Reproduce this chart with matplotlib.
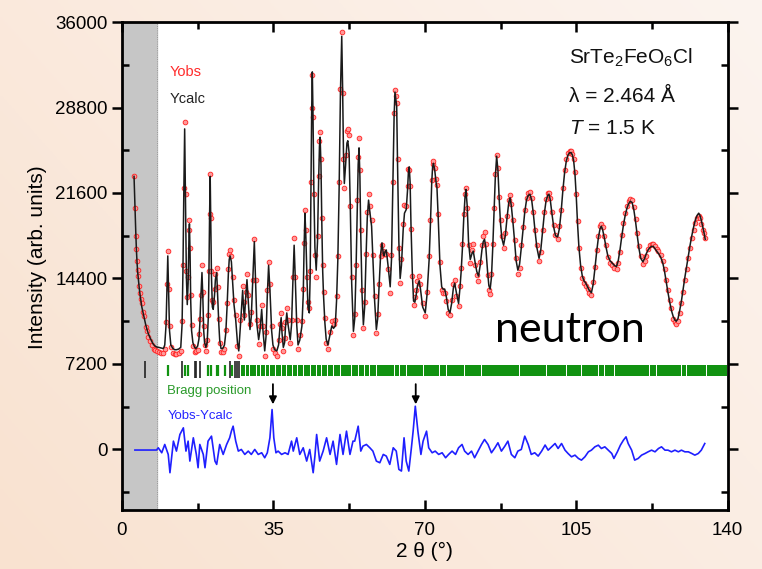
import numpy as np
import matplotlib.pyplot as plt

plt.rcParams['font.family'] = ['Liberation Sans', 'DejaVu Sans']
plt.rcParams['mathtext.fontset'] = 'custom'
plt.rcParams['mathtext.rm'] = 'Liberation Sans'
plt.rcParams['mathtext.it'] = 'Liberation Sans:italic'

two_theta = [2.8, 3.0, 3.2, 3.35, 3.5, 3.65, 3.8, 4.0, 4.2, 4.4,
             4.6, 4.9, 5.2, 5.5, 5.8, 6.1, 6.5, 6.9, 7.3, 7.7,
             8.1, 8.5, 9.0, 9.6, 9.9, 10.2, 10.4, 10.6, 10.8, 11.0,
             11.3, 11.8, 12.2, 12.6, 13.1, 13.6, 13.9, 14.1, 14.3, 14.5,
             14.7, 14.9, 15.1, 15.3, 15.5, 15.6, 15.75, 15.9, 16.1, 16.4,
             16.8, 17.1, 17.5, 17.8, 18.0, 18.2, 18.5, 18.7, 18.9, 19.1,
             19.4, 19.7, 19.95, 20.1, 20.25, 20.4, 20.55, 20.7, 20.9, 21.1,
             21.4, 21.6, 21.9, 22.1, 22.4, 22.6, 22.9, 23.3, 23.7, 24.0,
             24.3, 24.6, 24.8, 25.0, 25.3, 25.6, 25.9, 26.3, 26.7, 27.0,
             27.4, 27.9, 28.1, 28.3, 28.6, 28.9, 29.2, 29.6, 29.9, 30.2,
             30.6, 30.9, 31.2, 31.6, 31.9, 32.3, 32.6, 33.0, 33.3, 33.6,
             33.9, 34.2, 34.6, 34.9, 35.3, 35.8, 36.2, 36.5, 36.8, 37.0,
             37.3, 37.6, 37.8, 38.1, 38.4, 38.9, 39.2, 39.5, 39.8, 40.1,
             40.4, 40.7, 41.1, 41.6, 41.9, 42.1, 42.3, 42.5, 42.8, 43.0,
             43.3, 43.5, 43.7, 43.85, 44.0, 44.15, 44.35, 44.6, 44.9, 45.2,
             45.45, 45.65, 45.8, 46.0, 46.2, 46.4, 46.6, 46.9, 47.2, 47.6,
             48.0, 48.5, 48.9, 49.3, 49.6, 49.9, 50.2, 50.5, 50.8, 51.0,
             51.2, 51.4, 51.7, 52.0, 52.2, 52.5, 52.8, 53.1, 53.5, 53.8,
             54.1, 54.4, 54.6, 54.8, 55.0, 55.2, 55.5, 55.8, 56.1, 56.4,
             56.7, 57.0, 57.3, 57.7, 58.0, 58.4, 58.8, 59.1, 59.4, 59.8,
             60.1, 60.4, 60.6, 60.85, 61.1, 61.5, 62.0, 62.3, 62.6, 62.9,
             63.1, 63.3, 63.5, 63.7, 64.0, 64.3, 64.6, 65.0, 65.3, 65.7,
             66.0, 66.2, 66.4, 66.6, 66.8, 67.1, 67.4, 67.7, 68.0, 68.3,
             68.7, 69.0, 69.5, 70.1, 70.5, 71.0, 71.3, 71.6, 71.8, 72.0,
             72.3, 72.6, 72.8, 73.1, 73.5, 73.9, 74.2, 74.6, 75.0, 75.4,
             75.8, 76.2, 76.6, 76.9, 77.3, 77.8, 78.1, 78.4, 78.7, 79.0,
             79.3, 79.5, 79.8, 80.1, 80.5, 80.9, 81.2, 81.6, 82.0, 82.4,
             82.8, 83.2, 83.5, 83.8, 84.1, 84.5, 84.8, 85.1, 85.4, 85.7,
             86.0, 86.3, 86.6, 86.9, 87.2, 87.5, 87.8, 88.2, 88.6, 89.0,
             89.4, 89.7, 90.0, 90.4, 90.8, 91.1, 91.5, 91.9, 92.3, 92.7,
             93.1, 93.5, 93.9, 94.3, 94.7, 95.1, 95.5, 95.9, 96.4, 96.8,
             97.2, 97.6, 98.0, 98.4, 98.7, 99.0, 99.4, 99.8, 100.2, 100.7,
             101.1, 101.5, 101.9, 102.3, 102.7, 103.1, 103.5, 103.8, 104.1, 104.4,
             104.7, 105.0, 105.3, 105.6, 106.0, 106.4, 106.8, 107.2, 107.6, 108.0,
             108.5, 108.9, 109.3, 109.7, 110.1, 110.5, 110.8, 111.1, 111.5, 111.9,
             112.3, 112.8, 113.3, 113.8, 114.3, 114.7, 115.1, 115.5, 115.9, 116.3,
             116.7, 117.1, 117.5, 117.9, 118.3, 118.7, 119.1, 119.5, 119.9, 120.4,
             120.8, 121.2, 121.6, 122.0, 122.4, 122.8, 123.2, 123.6, 124.0, 124.5,
             125.0, 125.4, 125.8, 126.2, 126.6, 127.0, 127.4, 127.8, 128.1, 128.5,
             128.9, 129.3, 129.7, 130.1, 130.5, 130.9, 131.3, 131.7, 132.1, 132.5,
             132.9, 133.3, 133.6, 133.9, 134.2, 134.5, 134.8]
y_calc = [23000, 20500, 18300, 16800, 15700, 14900, 14300, 13600, 13000, 12500,
          12000, 11500, 11000, 10500, 10100, 9750, 9400, 9100, 8830, 8700,
          8620, 8600, 8550, 8500, 8800, 10500, 13500, 16300, 13000, 10000,
          8800, 8500, 8400, 8400, 8450, 8600, 10500, 15000, 21500, 27000,
          21000, 14500, 12200, 14000, 18000, 19000, 16500, 12500, 10000, 9000,
          8600, 8500, 8700, 9300, 10500, 12500, 14900, 12800, 10000, 9000,
          8600, 9000, 11000, 14500, 19500, 23000, 19000, 14500, 12000, 11800,
          13000, 14300, 14900, 13200, 10500, 9200, 8500, 8500, 8800, 9800,
          12000, 14800, 16000, 16300, 15800, 14000, 12200, 10900, 9000, 8300,
          10500, 13400, 12000, 10900, 12800, 14300, 12500, 10100, 11200, 14000,
          17500, 14000, 10500, 9250, 10000, 11800, 10000, 8300, 9500, 13000,
          15500, 13500, 10000, 8800, 8400, 8300, 8800, 10200, 11100, 9800,
          8600, 9000, 10300, 11500, 10500, 9250, 10500, 14000, 17200, 14000,
          10500, 8800, 9200, 10400, 13000, 17000, 19900, 18000, 14000, 12000,
          11500, 14500, 22000, 28500, 31800, 28500, 22000, 17000, 15100, 17500,
          22500, 25500, 26300, 24000, 19000, 15000, 12900, 10700, 9300, 8800,
          9500, 10400, 10200, 10400, 12500, 16000, 22000, 30000, 34800, 30500,
          25000, 22400, 24000, 25800, 26000, 25000, 20000, 14000, 9950, 11000,
          15000, 20500, 24000, 25400, 23000, 18000, 13000, 10500, 12000, 16000,
          19500, 21000, 20000, 18800, 16000, 12500, 10100, 11000, 13500, 16500,
          17400, 16500, 16300, 16700, 16800, 15500, 13700, 16000, 22000, 28000,
          30100, 29500, 28900, 24000, 17500, 14400, 15500, 18500, 19900, 20200,
          21800, 23300, 23800, 22500, 19000, 15000, 12500, 12400, 13000, 13800,
          14200, 13500, 12000, 11500, 13000, 16000, 19000, 22500, 23800, 24100,
          23500, 22500, 22100, 19500, 15500, 13700, 13500, 13500, 12800, 11800,
          11500, 12300, 13600, 14000, 13200, 12300, 13500, 15000, 17000, 19500,
          21300, 21900, 20500, 17500, 16000, 16500, 16700, 15800, 15000, 14600,
          15500, 16800, 17500, 17700, 17000, 15000, 13800, 13500, 14500, 17000,
          20000, 23000, 24700, 23500, 21000, 19000, 17800, 17200, 18000, 19500,
          20800, 21200, 20500, 19000, 17300, 15900, 15100, 15600, 17000, 18500,
          20000, 21000, 21400, 21500, 21000, 19800, 18300, 17000, 16100, 16800,
          18300, 19800, 20900, 21400, 21500, 21000, 19800, 18700, 18000, 17900,
          18600, 20000, 21800, 23300, 24300, 24800, 25000, 25000, 24800, 24300,
          23200, 21300, 19000, 17100, 15500, 14600, 14200, 14000, 13700, 13400,
          13200, 13900, 15200, 16600, 17800, 18600, 18800, 18500, 17800, 17000,
          16300, 15900, 15700, 15500, 15400, 15900, 16800, 17900, 18900, 19700,
          20300, 20700, 20900, 20800, 20200, 19200, 18000, 16900, 16100, 15800,
          16100, 16500, 16800, 17000, 17100, 17100, 16900, 16700, 16500, 16200,
          15700, 15000, 14100, 13200, 12400, 11700, 11200, 10900, 10800, 11000,
          11700, 12500, 13500, 14500, 15400, 16300, 17200, 18000, 18700, 19300,
          19700, 19900, 19700, 19300, 18800, 18300, 17700]
y_obs = [23000, 20300, 18000, 16900, 15900, 15100, 14600, 13800, 13200, 12700,
         12300, 11600, 11200, 10300, 10000, 9500, 9100, 8800, 8500, 8400,
         8300, 8200, 8150, 8100, 8500, 10700, 13900, 16700, 13500, 10400,
         8600, 8100, 8000, 8050, 8100, 8300, 10800, 15500, 22000, 27600,
         21500, 15000, 12800, 14500, 18500, 19300, 17000, 13000, 10500, 8700,
         8200, 8300, 8400, 9700, 11000, 13000, 15500, 13300, 10400, 8800,
         8300, 9200, 11300, 15000, 19800, 23200, 19500, 15000, 12600, 12400,
         13500, 14800, 15300, 13700, 11000, 9000, 8200, 8200, 8500, 10100,
         12300, 15200, 16500, 16800, 16300, 14500, 12600, 11300, 8700, 7900,
         10900, 13800, 12400, 11300, 13300, 14800, 13000, 10600, 11600, 14300,
         17700, 14300, 10900, 8900, 10400, 12200, 10400, 7900, 9900, 13400,
         15800, 13900, 10400, 8500, 8100, 7900, 9200, 10600, 11500, 10200,
         8300, 9400, 10700, 11900, 10900, 9000, 10900, 14500, 17800, 14500,
         10900, 8500, 9600, 10800, 13500, 17400, 20200, 18500, 14500, 12400,
         11900, 15000, 22500, 28800, 31500, 28000, 21500, 16400, 14500, 18000,
         23000, 26000, 26700, 24500, 19500, 15500, 13300, 11100, 9000, 8500,
         9900, 10800, 10600, 10900, 12900, 16300, 22500, 30400, 35200, 30000,
         24500, 22000, 24800, 26800, 27000, 26500, 20500, 14500, 9600, 11400,
         15500, 21000, 24600, 26200, 23500, 18500, 13400, 10200, 12400, 16500,
         20000, 21500, 20500, 19300, 16400, 12900, 9800, 11400, 13900, 16300,
         17200, 16700, 16500, 16500, 16500, 15200, 13200, 16400, 22500, 28300,
         30300, 29800, 29200, 24500, 17000, 14000, 16000, 19000, 20600, 20500,
         22200, 23600, 23500, 22200, 18600, 14600, 12200, 12800, 13400, 14200,
         14600, 13900, 12300, 11200, 13300, 16300, 19300, 22700, 24000, 24300,
         23700, 22800, 22300, 19800, 15800, 13400, 13200, 13200, 12500, 11500,
         11300, 12600, 13900, 14300, 12900, 12100, 13800, 15300, 17300, 19800,
         21500, 22000, 20300, 17200, 15700, 16800, 17300, 15500, 14700, 14200,
         15800, 17200, 18000, 18300, 17300, 14700, 13400, 13100, 14800, 17300,
         20300, 23200, 24800, 23700, 21300, 19300, 18000, 17000, 18200, 19700,
         21000, 21400, 20700, 19300, 17600, 16100, 14800, 15300, 17200, 18700,
         20200, 21200, 21600, 21700, 21200, 20000, 18500, 17200, 15900, 16600,
         18500, 20000, 21100, 21600, 21600, 21200, 20000, 18900, 18100, 17700,
         18800, 20200, 22000, 23500, 24500, 25000, 25100, 25100, 24900, 24500,
         23400, 21500, 19200, 17000, 15300, 14400, 14000, 13800, 13500, 13200,
         13000, 14100, 15400, 16800, 18000, 18800, 19000, 18700, 18000, 17200,
         16200, 15700, 15500, 15300, 15200, 15700, 16600, 18100, 19100, 19900,
         20500, 20900, 21100, 21000, 20400, 19400, 18200, 17100, 16300, 15600,
         15900, 16300, 16900, 17200, 17300, 17300, 17100, 16900, 16700, 16400,
         15900, 15200, 14300, 13400, 12600, 11900, 11000, 10700, 10600, 10800,
         11500, 12300, 13300, 14300, 15200, 16100, 17000, 17800, 18500, 19100,
         19500, 19700, 19500, 19000, 18500, 18200, 17800]
assert len(two_theta) == len(y_calc) == len(y_obs)

# difference curve Yobs-Ycalc
diff_x = [3.0, 8.0, 8.4, 9.2, 9.9, 10.7, 11.1, 11.9, 12.6, 13.4, 14.2, 14.8,
          15.3, 15.7, 16.5, 17.2, 17.6, 18.0, 18.8, 19.2, 19.9, 20.7, 21.5,
          21.9, 22.6, 23.4, 24.2, 24.9, 25.3, 25.7, 26.3, 26.9, 27.6, 28.4,
          29.2, 29.9, 30.7, 31.5, 32.3, 33.0, 33.6, 34.2, 34.7, 35.1, 35.6,
          36.1, 36.9, 37.7, 38.4, 39.2, 39.6, 40.4, 41.1, 41.9, 42.7, 43.4,
          44.2, 44.6, 45.0, 45.7, 46.5, 47.3, 48.1, 48.8, 49.6, 50.4, 51.1,
          51.9, 52.7, 53.4, 53.8, 54.6, 55.2, 55.7, 56.5, 57.3, 58.0, 58.8,
          59.6, 60.4, 61.1, 61.9, 62.7, 63.4, 64.0, 64.6, 65.2, 65.7, 66.3,
          66.9, 67.3, 67.8, 68.4, 69.1, 69.6, 70.4, 70.9, 71.7, 72.4, 73.2,
          74.0, 74.8, 75.5, 76.3, 77.1, 77.8, 78.6, 79.2, 80.0, 80.8, 81.5,
          82.3, 83.1, 83.8, 84.6, 85.4, 86.2, 86.9, 87.7, 88.5, 89.2, 90.0,
          90.8, 91.5, 92.3, 93.1, 93.9, 94.6, 95.4, 96.2, 97.0, 97.8, 98.5,
          99.3, 100.1, 100.8, 101.6, 102.4, 103.1, 103.9, 104.7, 105.5, 106.2,
          107.0, 107.8, 108.5, 109.3, 110.1, 110.8, 111.6, 112.4, 113.2, 113.7,
          114.5, 115.2, 115.9, 116.5, 117.0, 117.8, 118.5, 119.3, 120.1, 120.9,
          121.6, 122.4, 123.2, 124.0, 124.7, 125.5, 126.2, 127.0, 127.8, 128.6,
          129.3, 130.1, 130.9, 131.7, 132.4, 133.2, 133.9, 134.7]
diff_y = [-50, -50, 140, -280, 420, -420, -1960, 700, -140, 1260, 1820, -140,
          700, -980, 980, -420, -1540, 420, -420, -1540, 700, 1120, -980,
          -1260, 420, -420, 420, 980, 1540, 1960, 700, -140, 0, -420,
          -140, -420, 0, -420, -280, -700, -280, 980, 3360, 980, -280,
          -140, -420, -280, -420, 700, -140, 980, -420, 140, -980, 0,
          -1960, -560, 1260, -980, -140, 980, -420, 700, -1260, 1260, -420,
          1540, -420, 700, 700, 1960, -140, 280, 420, 140, -140, -980,
          -1120, -420, -560, -1260, 140, -140, -1680, -1820, 980, -980, -1820,
          140, 1540, 3640, 1540, -420, 700, 1540, 140, -280, -140, -420,
          -280, -700, -420, -140, -420, 140, 420, -140, -420, -140, -700,
          -140, 420, 840, 420, -280, 140, 560, -140, 280, 700, -420,
          -700, -140, 0, 1120, 420, -420, -280, -560, -140, 370, -60,
          220, 500, 80, 500, -60, -340, -620, -480, -760, -900,
          -620, -200, -60, 220, 360, 80, 220, -60, -340, -760,
          -200, 360, 780, 1060, 500, -60, -900, -760, -480, -340,
          -200, -60, -200, 80, 220, -60, -60, -200, -60, -200,
          -60, -200, -200, -340, -480, -340, -60, 500]

# Bragg reflections: sparse low-angle ticks and gaps in the dense band
bragg_nuc = [10.7, 14.6, 15.3, 19.9, 20.7, 21.9, 22.3, 23.8, 25.4]
bragg_mag = [5.3, 13.8, 16.9, 17.2, 18.0, 24.9, 26.1, 26.6, 27.1]
band_gaps = [28.5, 29.5, 31.0, 32.0, 33.2, 34.0, 35.5, 36.8, 38.0, 39.5,
             40.5, 42.0, 43.5, 45.0, 46.2, 47.5, 49.0, 50.5, 53.0, 54.6,
             56.0, 57.3, 58.8, 63.1, 64.2, 65.7, 69.6, 73.4, 75.0, 79.2,
             83.1, 91.9, 98.1, 102.8, 106.2, 110.1, 111.6, 113.9, 122.0,
             123.6, 129.3, 130.5, 135.1]
band_start, band_end = 27.5, 140

fig = plt.figure(figsize=(7.62, 5.69), dpi=100)

# peach slide background
bg = fig.add_axes([0, 0, 1, 1], zorder=-10)
gx, gy = np.meshgrid(np.linspace(0, 1, 200), np.linspace(0, 1, 200))
grad = 0.6 * gx + 0.4 * gy
c0 = np.array([249, 226, 208]) / 255
c1 = np.array([252, 244, 239]) / 255
img = c0 + grad[..., None] * (c1 - c0)
bg.imshow(img, extent=[0, 1, 0, 1], origin='lower', aspect='auto')
bg.axis('off')

ax = fig.add_axes([0.160, 0.1037, 0.795, 0.8576])
ax.set_facecolor('white')
ax.axvspan(0, 8, color='#c6c6c6', zorder=0)
ax.axvline(8, color='#8a8a8a', lw=0.6, ls=':', zorder=1)

ax.plot(two_theta, y_obs, ls='none', marker='o', ms=3.4, mfc='#ff9a9a',
        mec='#ff2020', mew=0.6, zorder=3)
ax.plot(two_theta, y_calc, color='#1a1a1a', lw=1.1, zorder=4)
ax.plot(diff_x, diff_y, color='#1f1fff', lw=1.2, zorder=3)

# Bragg position ticks
edges = [band_start] + band_gaps + [band_end]
segs = [(edges[i] + 0.12, edges[i + 1] - edges[i] - 0.24) for i in range(len(edges) - 1)]
ax.broken_barh(segs, (6200, 950), facecolors='#119211', zorder=2)
ax.vlines(bragg_nuc, 6200, 7150, color='#119211', lw=1.6, zorder=2)
ax.vlines(bragg_mag, 6000, 7450, color='#222222', lw=1.2, zorder=2)

for xa in [34.9, 67.9]:
    ax.annotate('', xy=(xa, 3800), xytext=(xa, 5500),
                arrowprops=dict(arrowstyle='-|>', color='black', lw=1.3,
                                mutation_scale=11, shrinkA=0, shrinkB=0))

ax.text(11.0, 31800, 'Yobs', color='#ff2a2a', fontsize=10.5, va='center')
ax.text(11.0, 29500, 'Ycalc', color='#222222', fontsize=10.5, va='center')
ax.text(10.5, 4950, 'Bragg position', color='#2a9a2a', fontsize=9.5, va='center')
ax.text(10.5, 2800, 'Yobs-Ycalc', color='#2525ff', fontsize=9.5, va='center')

ax.text(103.3, 33000, 'SrTe$_2$FeO$_6$Cl', fontsize=15, va='center', color='#111111')
ax.text(103.3, 29700, 'λ = 2.464 Å', fontsize=15, va='center', color='#111111')
ax.text(103.3, 27050, '$T$ = 1.5 K', fontsize=15, va='center', color='#111111')
ax.text(103.5, 10100, 'neutron', fontsize=31, ha='center', va='center',
        family=['Lato', 'DejaVu Sans'], color='black')

ax.set_xlim(0, 140)
ax.set_ylim(-5100, 36000)
ax.set_xticks([0, 35, 70, 105, 140])
ax.set_xticks(np.arange(0, 141, 17.5), minor=True)
ax.set_yticks(np.arange(0, 36001, 7200))
ax.set_yticks(np.arange(-3600, 36001, 3600), minor=True)

ax.tick_params(axis='x', which='both', direction='in', top=True, labelsize=13.5,
               width=1.8, pad=9)
ax.tick_params(axis='x', which='major', length=7)
ax.tick_params(axis='x', which='minor', length=5)
ax.tick_params(axis='y', which='both', right=True, labelsize=13.5, width=1.8)
ax.tick_params(axis='y', which='major', direction='out', length=7)
ax.tick_params(axis='y', which='minor', direction='in', length=5)
for s in ax.spines.values():
    s.set_linewidth(2.0)

ax.set_xlabel('2 θ (°)', fontsize=15, labelpad=2)
ax.set_ylabel('Intensity (arb. units)', fontsize=15)
ax.yaxis.set_label_coords(-0.124, 0.518)

fig.savefig('out.png', dpi=100, facecolor=fig.get_facecolor())
